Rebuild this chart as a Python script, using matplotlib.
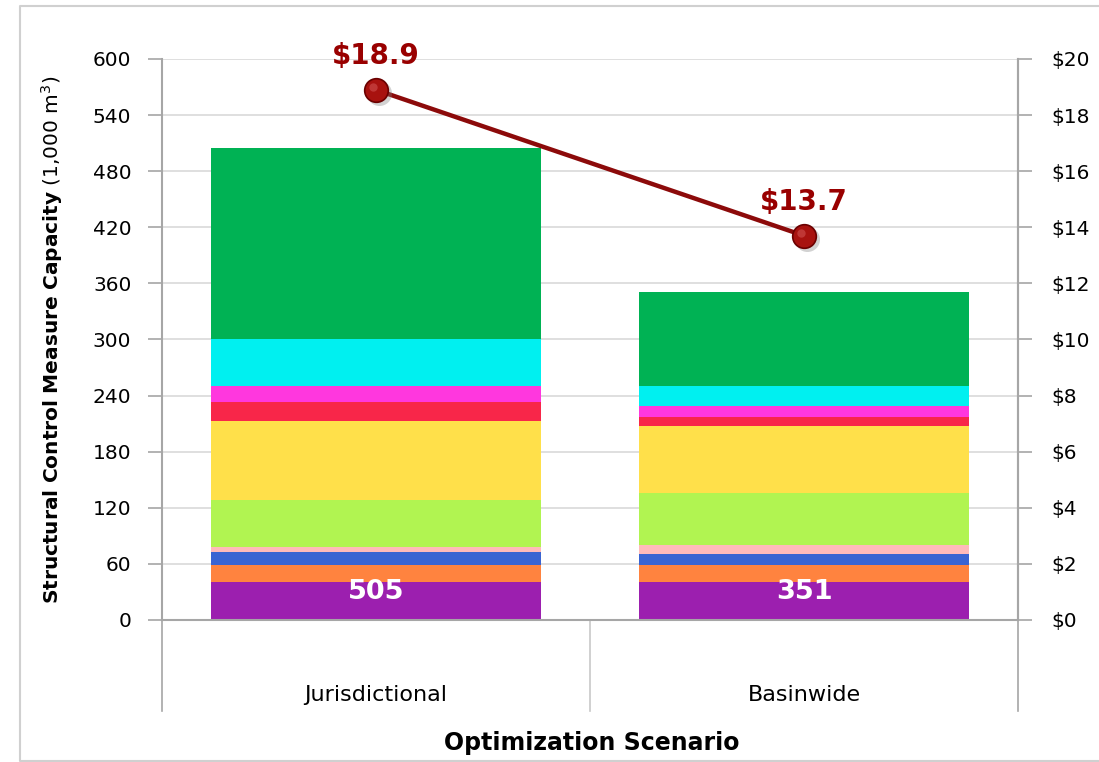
import matplotlib
matplotlib.use('Agg')
import matplotlib.pyplot as plt
import matplotlib.transforms as mtransforms
from matplotlib.lines import Line2D

# scenarios on the x axis
scenarios = ['Jurisdictional', 'Basinwide']

# stacked capacity components, bottom to top (1,000 m3)
purple = [41, 41]
orange = [18, 18]
blue = [14, 12]
pink = [5, 9]
lime = [50, 56]
yellow = [85, 71]
red = [20, 10]
magenta = [17, 12]
cyan = [50, 21]
green = [205, 101]
totals = [505, 351]

# cost line (right axis)
costs = [18.9, 13.7]
cost_labels = ['\\$18.9', '\\$13.7']

left_ticks = [0, 60, 120, 180, 240, 300, 360, 420, 480, 540, 600]
right_ticks = [0, 2, 4, 6, 8, 10, 12, 14, 16, 18, 20]
right_labels = ['\\$0', '\\$2', '\\$4', '\\$6', '\\$8', '\\$10',
                '\\$12', '\\$14', '\\$16', '\\$18', '\\$20']


def main():
    plt.rcParams['font.family'] = ['DejaVu Sans']
    layers = [purple, orange, blue, pink, lime, yellow, red, magenta, cyan, green]
    colors = ['#9C1FAF', '#FF833F', '#3A64D2', '#FFBABA', '#B1F451',
              '#FFE04A', '#F82649', '#FF37DE', '#00F0F0', '#00B254']
    spine_col = '#A6A6A6'

    fig = plt.figure(figsize=(10.99, 7.62), dpi=100)
    ax = fig.add_axes([0.1474, 0.1864, 0.7789, 0.7362])

    x = list(range(len(scenarios)))
    bottom = [0] * len(scenarios)
    for vals, col in zip(layers, colors):
        ax.bar(x, vals, 0.77, bottom=bottom, color=col, zorder=2)
        bottom = [b + v for b, v in zip(bottom, vals)]

    for i, t in enumerate(totals):
        ax.text(i, 30, str(t), color='white', fontsize=19.5, fontweight='bold',
                ha='center', va='center', zorder=4)

    ax.set_xlim(-0.5, 1.5)
    ax.set_ylim(0, 600)
    ax.set_yticks(left_ticks)
    ax.set_xticks([])
    ax.yaxis.grid(True, color='#D9D9D9', lw=1.2)
    ax.set_axisbelow(True)
    ax.tick_params(axis='y', length=10, width=1.2, color=spine_col,
                   labelsize=14.5, pad=12)
    ax.spines['top'].set_visible(False)
    for s in ['left', 'right', 'bottom']:
        ax.spines[s].set_color(spine_col)
        ax.spines[s].set_linewidth(1.5)

    # category boxes below the axis
    for xa in [0, 0.5, 1]:
        ax.plot([xa, xa], [0, -0.162], transform=ax.transAxes, clip_on=False,
                color='#C8C8C8' if xa == 0.5 else spine_col, lw=1.2)
    for i, name in enumerate(scenarios):
        ax.text((i + 0.5) / 2, -0.134, name, transform=ax.transAxes,
                ha='center', va='center', fontsize=16)

    ax2 = ax.twinx()
    ax2.set_ylim(0, 20)
    ax2.set_yticks(right_ticks)
    ax2.set_yticklabels(right_labels)
    ax2.tick_params(axis='y', length=10, width=1.2, color=spine_col,
                    labelsize=14.5, pad=14)
    for s in ['left', 'top', 'bottom']:
        ax2.spines[s].set_visible(False)
    ax2.spines['right'].set_color(spine_col)
    ax2.spines['right'].set_linewidth(1.5)

    ax2.plot(x, costs, color='#8C0A0A', lw=3.2, zorder=3,
             solid_capstyle='round')
    shadow = mtransforms.offset_copy(ax2.transData, fig=fig, x=3, y=-3,
                                     units='dots')
    ax2.plot(x, costs, 'o', ms=18, color='#7F7F7F', alpha=0.35, mew=0,
             transform=shadow, zorder=3)
    ax2.plot(x, costs, 'o', ms=17, color='#A8120F', mec='#6A0000', mew=1.2,
             zorder=4)
    hl = mtransforms.offset_copy(ax2.transData, fig=fig, x=-3, y=3,
                                 units='dots')
    ax2.plot(x, costs, 'o', ms=6, color='#D05050', alpha=0.6, mew=0,
             transform=hl, zorder=5)
    for i, (c, lab) in enumerate(zip(costs, cost_labels)):
        ax2.annotate(lab, (i, c), xytext=(0, 34), textcoords='offset pixels',
                     ha='center', va='center', fontsize=20, fontweight='bold',
                     color='#990000', annotation_clip=False, zorder=6)

    fig.text(52 / 1099, 1 - 340 / 762,
             r'$\mathbf{Structural\ Control\ Measure\ Capacity}$ (1,000 m$^3$)',
             rotation=90, ha='center', va='center', fontsize=14.5)
    fig.text(592 / 1099, 1 - 743 / 762, 'Optimization Scenario',
             ha='center', va='center', fontsize=17, fontweight='bold')

    # outer chart frame (open on the right, cut off in the original)
    fx0, fy0, fy1 = 20 / 1099, 1 / 762, 1 - 6 / 762
    fig.add_artist(Line2D([1.0, fx0, fx0, 1.0], [fy1, fy1, fy0, fy0],
                          transform=fig.transFigure, color='#D0D0D0', lw=1.5))

    fig.savefig('out.png', dpi=100)


if __name__ == "__main__":
    main()
